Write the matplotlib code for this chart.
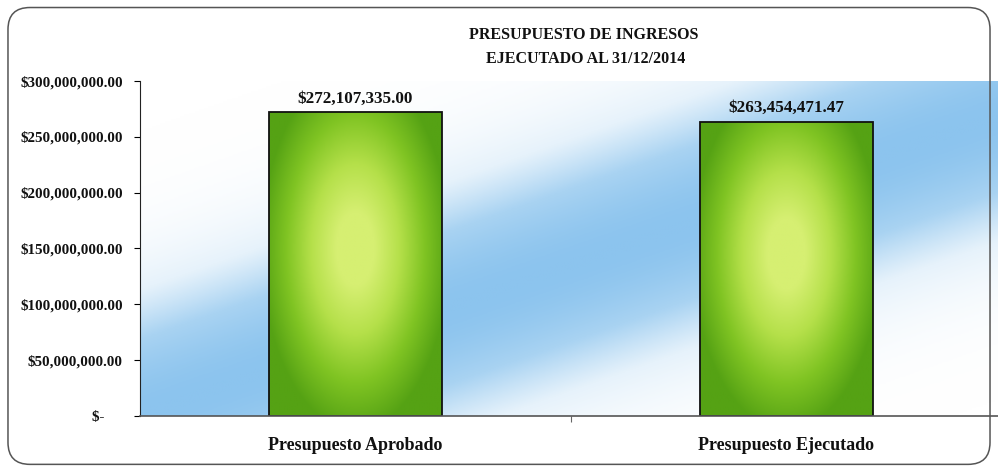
import numpy as np
import matplotlib
matplotlib.use("Agg")
import matplotlib.pyplot as plt
from matplotlib.patches import FancyBboxPatch
from matplotlib.colors import LinearSegmentedColormap

categories = ["Presupuesto Aprobado", "Presupuesto Ejecutado"]
values = [272107335.00, 263454471.47]
y_ticks = [0, 50000000, 100000000, 150000000, 200000000, 250000000, 300000000]
title_lines = ["PRESUPUESTO DE INGRESOS", "EJECUTADO AL 31/12/2014"]

plt.rcParams['font.family'] = ['Liberation Serif', 'DejaVu Serif']

fig = plt.figure(figsize=(9.98, 4.70), dpi=100)
ax = fig.add_axes([0.140, 0.115, 0.864, 0.713])
ax.set_facecolor('none')

x = np.arange(len(categories))
bars = ax.bar(x, values, width=0.4, color='none', edgecolor='#111111', linewidth=1.3, zorder=3)
ax.set_xlim(-0.5, 1.5)
ax.set_ylim(0, 300000000)

# diagonal blue band behind the plot
u, v = np.meshgrid(np.linspace(0, 1, 400), np.linspace(0, 1, 200))
d = v - 0.9 * u
band = np.exp(-(d / 0.36) ** 2)
bg_cmap = LinearSegmentedColormap.from_list('bg', ['#ffffff', '#e6f2fb', '#a9d3f2', '#8cc4ee'])
ax.imshow(band, cmap=bg_cmap, vmin=0, vmax=1, origin='lower', extent=[0, 1, 0, 1],
          transform=ax.transAxes, aspect='auto', zorder=0, interpolation='bilinear')

# radial green fill in each bar
green = LinearSegmentedColormap.from_list('gr', ['#55a214', '#80c423', '#b5e04a', '#d6ef72'])
for b in bars:
    x0, w, h = b.get_x(), b.get_width(), b.get_height()
    gx, gy = np.meshgrid(np.linspace(-1, 1, 120), np.linspace(0, 1, 240))
    r = np.sqrt((gx / 1.1) ** 2 + ((gy - 0.55) / 0.6) ** 2)
    g = np.clip(1 - r, 0, 1)
    im = ax.imshow(g, cmap=green, vmin=0, vmax=0.8, origin='lower',
                   extent=[x0, x0 + w, 0, h], aspect='auto', zorder=2, interpolation='bilinear')
    im.set_clip_path(b)

ax.bar_label(bars, labels=[f"${v:,.2f}" for v in values], padding=4,
             fontsize=12.3, fontweight='bold', color='#111111')

ax.set_yticks(y_ticks)
ax.set_yticklabels(["$-     " if t == 0 else f"${t:,.2f}" for t in y_ticks],
                   fontsize=10.8, fontweight='bold', color='#111111')
ax.tick_params(axis='y', direction='out', length=4, width=0.8, pad=8.3)

ax.set_xticks(x)
ax.set_xticklabels(categories, fontsize=13, fontweight='bold', color='#111111')
ax.tick_params(axis='x', length=0, pad=15)
ax.set_xticks([0.5], minor=True)
ax.tick_params(axis='x', which='minor', direction='out', length=4, width=0.8, color='#666666')

for s in ['top', 'right']:
    ax.spines[s].set_visible(False)
ax.spines['left'].set_color('#222222')
ax.spines['left'].set_linewidth(0.8)
ax.spines['bottom'].set_color('#555555')
ax.spines['bottom'].set_linewidth(1.2)
ax.spines['bottom'].set_zorder(4)

fig.text(584 / 998, 1 - 35 / 470, title_lines[0], ha='center', va='center',
         fontsize=11.5, fontweight='bold', color='#111111')
fig.text(586 / 998, 1 - 59 / 470, title_lines[1], ha='center', va='center',
         fontsize=11.5, fontweight='bold', color='#111111')

border = FancyBboxPatch((0.008, 0.012), 0.984, 0.972, transform=fig.transFigure,
                        boxstyle="round,pad=0,rounding_size=0.022",
                        mutation_aspect=998 / 470, fill=False,
                        edgecolor='#555555', linewidth=1.1, zorder=10)
fig.patches.append(border)

fig.savefig("out.png", dpi=100)
